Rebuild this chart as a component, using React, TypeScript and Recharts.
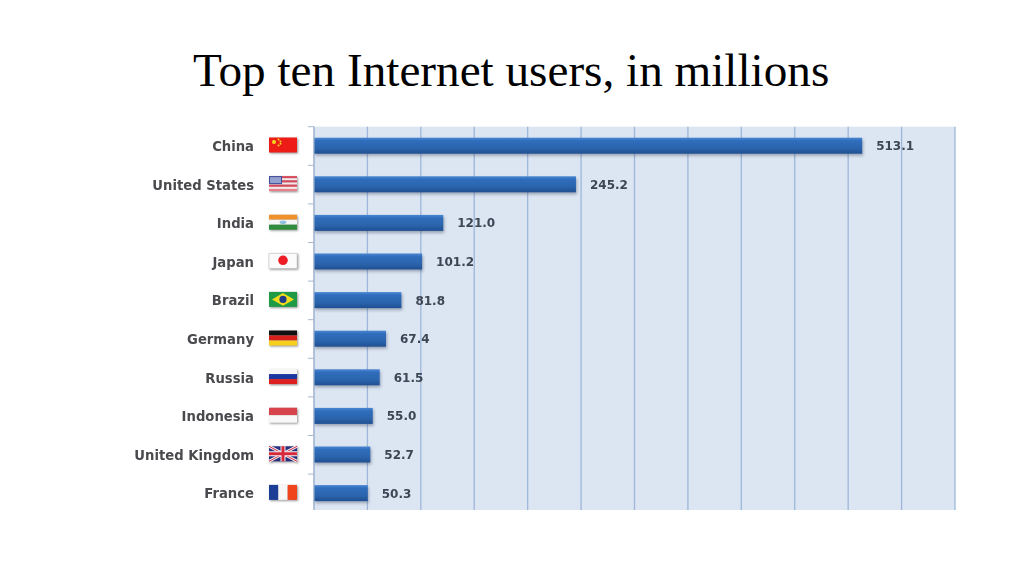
import { BarChart, Bar, XAxis, YAxis, CartesianGrid, LabelList } from "recharts";

const countries = [
  "China",
  "United States",
  "India",
  "Japan",
  "Brazil",
  "Germany",
  "Russia",
  "Indonesia",
  "United Kingdom",
  "France",
];
const users = [513.1, 245.2, 121.0, 101.2, 81.8, 67.4, 61.5, 55.0, 52.7, 50.3];
const xTicks = [0, 50, 100, 150, 200, 250, 300, 350, 400, 450, 500, 550, 600];

const data = countries.map((name, i) => ({ name, users: users[i] }));

const BAND = 38.6;
const FLAG_W = 28;
const FLAG_H = 15;

// three stripes, horizontal or vertical
const Stripes = ({ colors, vertical }: { colors: string[]; vertical?: boolean }) => (
  <>
    {colors.map((c, i) =>
      vertical ? (
        <rect key={i} x={(i * FLAG_W) / colors.length} y={0} width={FLAG_W / colors.length} height={FLAG_H} fill={c} />
      ) : (
        <rect key={i} x={0} y={(i * FLAG_H) / colors.length} width={FLAG_W} height={FLAG_H / colors.length} fill={c} />
      )
    )}
  </>
);

const FlagBody = ({ name }: { name: string }) => {
  switch (name) {
    case "China":
      return (
        <>
          <rect width={FLAG_W} height={FLAG_H} fill="#ee1c16" />
          <circle cx={5} cy={4.5} r={2} fill="#f7d81e" />
          <circle cx={9.5} cy={2} r={1} fill="#f7d81e" />
          <circle cx={11.5} cy={4} r={1} fill="#f7d81e" />
          <circle cx={11.5} cy={6.2} r={1} fill="#f7d81e" />
          <circle cx={9.5} cy={8} r={1} fill="#f7d81e" />
        </>
      );
    case "United States":
      return (
        <>
          <Stripes colors={["#d9475a", "#f6e6e8", "#d9475a", "#f6e6e8", "#d9475a", "#f6e6e8", "#e8808c"]} />
          <rect width={13} height={8} fill="#3f4f9e" />
          <rect x={1} y={1} width={11} height={6} fill="#b9c3e4" opacity={0.7} />
        </>
      );
    case "India":
      return (
        <>
          <Stripes colors={["#f0912c", "#f4f6f6", "#2f8c3c"]} />
          <ellipse cx={14} cy={7.5} rx={3.5} ry={1.8} fill="#8fc0dc" />
        </>
      );
    case "Japan":
      return (
        <>
          <rect width={FLAG_W} height={FLAG_H} fill="#fbfbfb" stroke="#c8c8c8" strokeWidth={0.6} />
          <circle cx={14} cy={7} r={4.8} fill="#ee1c25" />
        </>
      );
    case "Brazil":
      return (
        <>
          <rect width={FLAG_W} height={FLAG_H} fill="#1f9a45" />
          <polygon points="14,1.2 25,7.5 14,13.8 3,7.5" fill="#f4dc1c" />
          <circle cx={14} cy={7.5} r={3.6} fill="#1e3d86" />
        </>
      );
    case "Germany":
      return <Stripes colors={["#111111", "#d8201c", "#f7cf1c"]} />;
    case "Russia":
      return <Stripes colors={["#f5f5f5", "#1c36a0", "#dc2020"]} />;
    case "Indonesia":
      return <Stripes colors={["#d8444c", "#f8f8f8"]} />;
    case "United Kingdom":
      return (
        <>
          <rect width={FLAG_W} height={FLAG_H} fill="#27307e" />
          <path d="M0 0 L28 15 M28 0 L0 15" stroke="#f2f2f2" strokeWidth={3} />
          <path d="M0 0 L28 15 M28 0 L0 15" stroke="#d8283c" strokeWidth={1} />
          <path d="M14 0 V15 M0 7.5 H28" stroke="#f2f2f2" strokeWidth={5} />
          <path d="M14 0 V15 M0 7.5 H28" stroke="#d8283c" strokeWidth={3} />
        </>
      );
    case "France":
      return <Stripes colors={["#1c3e96", "#f6f6f6", "#f0441c"]} vertical />;
    default:
      return null;
  }
};

const CountryTick = (props: any) => {
  const { x, y, payload } = props;
  return (
    <g>
      <line x1={x - 6} x2={x} y1={y - BAND / 2} y2={y - BAND / 2} stroke="#a8b8d0" strokeWidth={1} />
      <text
        x={x - 60}
        y={y + 5}
        textAnchor="end"
        fontFamily="DejaVu Sans"
        fontWeight="bold"
        fontSize={13.2}
        fill="#4a4a4e"
        style={{ filter: "blur(0.35px)" }}
      >
        {payload.value}
      </text>
      <g transform={`translate(${x - 45},${y - 8.5})`} style={{ filter: "drop-shadow(1.5px 1.5px 0.8px rgba(60,60,60,.55))" }}>
        <FlagBody name={payload.value} />
      </g>
    </g>
  );
};

const BarShape = (props: any) => {
  const { x, y, width, height } = props;
  return (
    <rect
      x={x}
      y={y}
      width={width}
      height={height}
      fill="url(#barFill)"
      style={{ filter: "drop-shadow(1px 2px 1.5px rgba(50,60,90,.4))" }}
    />
  );
};

const ValueLabel = (props: any) => {
  const { x, y, width, height, value } = props;
  return (
    <text
      x={x + width + 14}
      y={y + height / 2 + 4.5}
      fontFamily="DejaVu Sans"
      fontWeight="bold"
      fontSize={12}
      fill="#3c4654"
      style={{ filter: "blur(0.35px)" }}
    >
      {Number(value).toFixed(1)}
    </text>
  );
};

export default function App() {
  return (
    <div style={{ position: "absolute", left: 0, top: 0, width: 1024, height: 576, background: "#fff", overflow: "hidden" }}>
      <div
        style={{
          position: "absolute",
          left: 0,
          width: 1024,
          top: 42,
          paddingLeft: 193,
          boxSizing: "border-box",
          fontFamily: "Liberation Serif",
          fontSize: 47.2,
          lineHeight: "56px",
          color: "#000",
          whiteSpace: "nowrap",
        }}
      >
        Top ten Internet users, in millions
      </div>
      <BarChart
        width={1024}
        height={576}
        data={data}
        layout="vertical"
        margin={{ top: 126.7, right: 69, bottom: 63.3, left: 0 }}
      >
        <defs>
          <linearGradient id="barFill" x1="0" y1="0" x2="0" y2="1">
            <stop offset="0" stopColor="#4a86d2" />
            <stop offset="0.2" stopColor="#2f6dbc" />
            <stop offset="0.65" stopColor="#2b64ac" />
            <stop offset="1" stopColor="#1f4f92" />
          </linearGradient>
        </defs>
        <CartesianGrid horizontal={false} fill="#dce6f2" stroke="#9db6da" strokeWidth={1.3} />
        <XAxis type="number" domain={[0, 600]} ticks={xTicks} hide />
        <YAxis
          type="category"
          dataKey="name"
          width={314}
          interval={0}
          tickLine={false}
          tickSize={0}
          tickMargin={0}
          axisLine={{ stroke: "#a8b8d0" }}
          tick={<CountryTick />}
        />
        <Bar dataKey="users" barSize={16} isAnimationActive={false} shape={<BarShape />}>
          <LabelList dataKey="users" content={<ValueLabel />} />
        </Bar>
      </BarChart>
      {/* the source picture is cut off just under the last bar */}
      <div style={{ position: "absolute", left: 0, top: 510, width: 1024, height: 66, background: "#fff" }} />
    </div>
  );
}
